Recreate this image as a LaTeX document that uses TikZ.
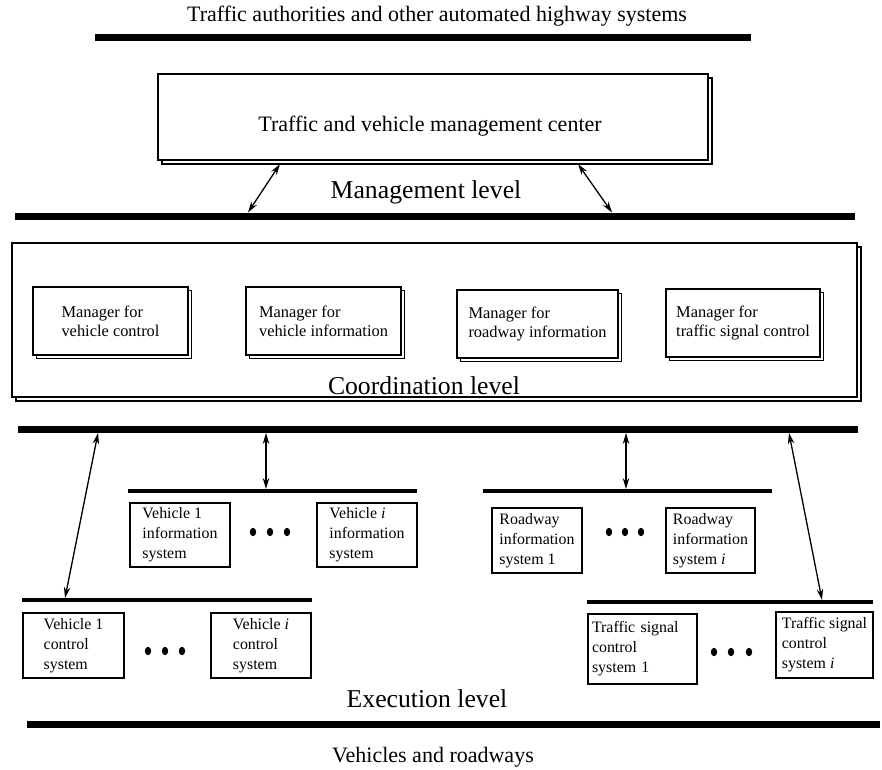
\documentclass[tikz,border=0pt]{standalone}
\usepackage{fontspec}
\setmainfont{Liberation Serif}
\usetikzlibrary{arrows.meta,shadows}
\begin{document}
\begin{tikzpicture}[x=1pt,y=-1pt,
  bar/.style={line width=7pt},
  subbar/.style={line width=4pt},
  link/.style={line width=1.3pt,{Stealth[length=11pt,width=6.5pt]}-{Stealth[length=11pt,width=6.5pt]}},
  captext/.style={anchor=base,inner sep=0pt,font=\fontsize{22}{26}\selectfont},
  lvltext/.style={anchor=base,inner sep=0pt,font=\fontsize{25.7}{30}\selectfont},
  panel/.style={draw,line width=1.4pt,fill=white,inner sep=0pt,
    copy shadow={shadow xshift=4pt,shadow yshift=-4pt}},
  manager/.style={draw,line width=1.3pt,fill=white,align=left,inner sep=0pt,
    font=\fontsize{16.4}{19.3}\selectfont,
    copy shadow={shadow xshift=3.5pt,shadow yshift=-3.5pt}},
  sysbox/.style={draw,line width=1.3pt,fill=white,align=left,inner sep=0pt,
    font=\fontsize{15.9}{20}\selectfont},
  dotmark/.style={fill=black}
]
\useasboundingbox (0,0) rectangle (882,769);

% ---------- outer environment ----------
\node[captext] (authorities) at (437,21) {Traffic authorities and other automated highway systems};
\coordinate (topL) at (95,37);
\coordinate (topR) at (751,37);
\draw[bar] (topL) -- (topR);

% ---------- management level ----------
\node[panel,minimum width=550pt,minimum height=86pt] (tvmc) at (433,117) {};
\node[captext] (tvmctext) at (430,131) {Traffic and vehicle management center};
\node[lvltext] (mgmtlevel) at (426,198) {Management level};
\coordinate (mgmtL) at (15,216);
\coordinate (mgmtR) at (855,216);
\draw[bar] (mgmtL) -- (mgmtR);
\coordinate (m1bar) at (248,212.5);
\coordinate (m1box) at (280,164);
\coordinate (m2box) at (578,164);
\coordinate (m2bar) at (612,212.5);
\draw[link] (m1bar) -- (m1box);
\draw[link] (m2box) -- (m2bar);

% ---------- coordination level ----------
\node[panel,minimum width=845pt,minimum height=154pt] (coord) at (434.5,320) {};
\node[manager,minimum width=155pt,minimum height=68pt] (mvc) at (110.5,321)
  {Manager for\\vehicle control};
\node[manager,minimum width=155pt,minimum height=68pt] (mvi) at (323.5,321)
  {Manager for\\vehicle information};
\node[manager,minimum width=161pt,minimum height=68pt] (mri) at (537.5,324)
  {Manager for\\roadway information};
\node[manager,minimum width=154pt,minimum height=68pt] (mts) at (743,323)
  {Manager for\\traffic signal control};
\node[lvltext] (coordlevel) at (424,394) {Coordination level};
\coordinate (coordL) at (18,429);
\coordinate (coordR) at (858,429);
\draw[bar] (coordL) -- (coordR);

% ---------- execution level: group buses ----------
\coordinate (viL) at (128,491);  \coordinate (viR) at (417,491);
\coordinate (riL) at (483,491);  \coordinate (riR) at (772,491);
\coordinate (vcL) at (22,600);   \coordinate (vcR) at (312,600);
\coordinate (tsL) at (587,602);  \coordinate (tsR) at (873,602);
\draw[subbar] (viL) -- (viR);
\draw[subbar] (riL) -- (riR);
\draw[subbar] (vcL) -- (vcR);
\draw[subbar] (tsL) -- (tsR);

% links between the coordination bus and the group buses
\coordinate (a1top) at (98,433);   \coordinate (a1bot) at (65,598);
\coordinate (a2top) at (266,433);  \coordinate (a2bot) at (266,489);
\coordinate (a3top) at (626,433);  \coordinate (a3bot) at (626,489);
\coordinate (a4top) at (789,433);  \coordinate (a4bot) at (822,600);
\draw[link] (a1top) -- (a1bot);
\draw[link] (a2top) -- (a2bot);
\draw[link] (a3top) -- (a3bot);
\draw[link] (a4top) -- (a4bot);

% ---------- execution level: subsystems ----------
\node[sysbox,minimum width=100pt,minimum height=64pt] (vis1) at (180,535)
  {Vehicle 1\\information\\system};
\node[sysbox,minimum width=100pt,minimum height=64pt] (visi) at (367,535)
  {Vehicle \textit{i}\\information\\system};
\node[sysbox,minimum width=90pt,minimum height=65pt] (ris1) at (537,540.5)
  {Roadway\\information\\system 1};
\node[sysbox,minimum width=89pt,minimum height=65pt] (risi) at (710.5,540.5)
  {Roadway\\information\\system \textit{i}};
\node[sysbox,minimum width=101pt,minimum height=65pt] (vcs1) at (73.5,645.5)
  {Vehicle 1\\control\\system};
\node[sysbox,minimum width=100pt,minimum height=65pt] (vcsi) at (261,645.5)
  {Vehicle \textit{i}\\control\\system};
\node[sysbox,inner xsep=4pt,text width=101pt,minimum height=70pt] (tss1) at (642.5,649)
  {Traffic signal\\control\\system 1};
\node[sysbox,minimum width=97pt,minimum height=66pt] (tssi) at (824.5,645)
  {Traffic signal\\control\\system \textit{i}};

% ellipsis dots between first and i-th subsystem
\foreach \x in {253,270,287} \fill[dotmark] (\x,532) ellipse [x radius=3.2, y radius=4.2];
\foreach \x in {609,625,641} \fill[dotmark] (\x,532) ellipse [x radius=3.2, y radius=4.2];
\foreach \x in {148,165,182} \fill[dotmark] (\x,651) ellipse [x radius=3.2, y radius=4.2];
\foreach \x in {714,731,749} \fill[dotmark] (\x,652) ellipse [x radius=3.2, y radius=4.2];

\node[lvltext] (execlevel) at (427,707) {Execution level};
\coordinate (botL) at (27,724);
\coordinate (botR) at (880,724);
\draw[bar] (botL) -- (botR);
\node[captext] (vehicles) at (433,762) {Vehicles and roadways};
\end{tikzpicture}
\end{document}
